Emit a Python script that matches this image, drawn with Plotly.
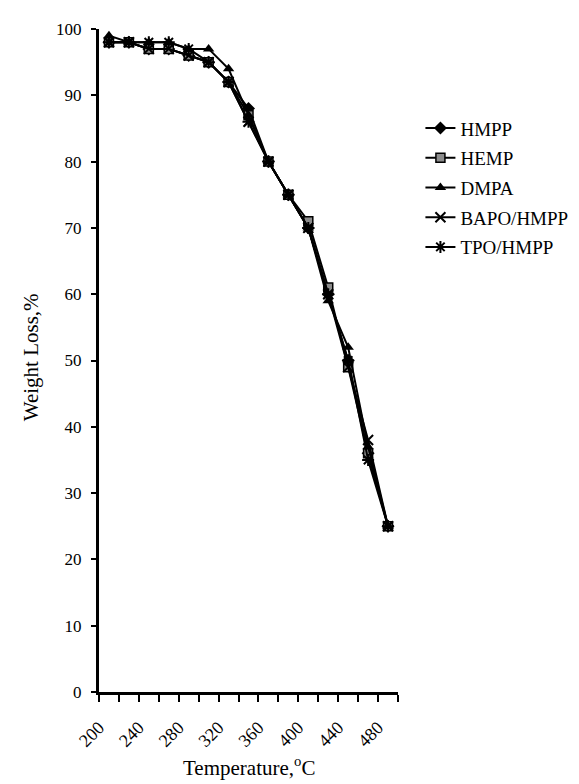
import plotly.graph_objects as go

temperature = [210, 230, 250, 270, 290, 310, 330, 350, 370, 390, 410, 430, 450, 470, 490]
hmpp = [98, 98, 97, 97, 96, 95, 92, 88, 80, 75, 70, 60, 50, 36, 25]
hemp = [98, 98, 97, 97, 96, 95, 92, 87, 80, 75, 71, 61, 49, 36, 25]
dmpa = [99, 98, 98, 98, 97, 97, 94, 87, 80, 75, 70, 59, 52, 37, 25]
bapo_hmpp = [98, 98, 97, 97, 96, 95, 92, 86, 80, 75, 70, 60, 49, 38, 25]
tpo_hmpp = [98, 98, 98, 98, 97, 95, 92, 86, 80, 75, 70, 60, 50, 35, 25]

x_tick_vals = [200, 240, 280, 320, 360, 400, 440, 480]
x_minor_vals = [220, 260, 300, 340, 380, 420, 460, 500]
y_tick_vals = list(range(0, 101, 10))

FONT = "Liberation Serif"

series = [
    ("HMPP", hmpp, dict(symbol="diamond", size=10, color="black")),
    ("HEMP", hemp, dict(symbol="square", size=9, color="#8c8c8c", line=dict(color="black", width=1.5))),
    ("DMPA", dmpa, dict(symbol="triangle-up", size=10, color="black")),
    ("BAPO/HMPP", bapo_hmpp, dict(symbol="x-thin", size=10, color="black", line=dict(color="black", width=2))),
    ("TPO/HMPP", tpo_hmpp, dict(symbol="asterisk", size=10, color="black", line=dict(color="black", width=2))),
]

fig = go.Figure()
for i, (name, vals, marker) in enumerate(series):
    fig.add_trace(go.Scatter(
        x=temperature, y=vals, name=name, mode="lines+markers",
        line=dict(color="black", width=2), marker=marker,
        legendgroup=f"g{i}",
    ))

fig.update_layout(
    width=579, height=784,
    margin=dict(l=91, r=189, t=21, b=100),
    paper_bgcolor="white", plot_bgcolor="white",
    font=dict(family=FONT, size=17, color="black"),
    showlegend=True,
    legend=dict(
        x=1.075, y=(684 - 101) / 663.3, xanchor="left", yanchor="top",
        font=dict(family=FONT, size=19, color="black"),
        tracegroupgap=2, bgcolor="rgba(0,0,0,0)",
    ),
    annotations=[
        dict(text="Temperature,<sup>o</sup>C", xref="paper", yref="paper",
             x=0.5, y=-(759 - 684) / 663.3, xanchor="center", yanchor="middle",
             showarrow=False, font=dict(family=FONT, size=21, color="black")),
        dict(text="Weight Loss,%", xref="paper", yref="paper",
             x=-(91 - 23) / 299.3, y=0.505, xanchor="center", yanchor="middle",
             textangle=-90, showarrow=False, font=dict(family=FONT, size=21, color="black")),
    ],
)

fig.update_xaxes(
    range=[200, 500], tickmode="array", tickvals=x_tick_vals,
    tickangle=-45, ticks="outside", ticklen=7, tickwidth=2, tickcolor="black",
    minor=dict(tickmode="array", tickvals=x_minor_vals, ticks="outside", ticklen=7,
               tickwidth=2, tickcolor="black", showgrid=False),
    showline=True, linecolor="black", linewidth=3, showgrid=False, zeroline=False,
    tickfont=dict(family=FONT, size=18), ticklabelstandoff=8,
)
fig.update_yaxes(
    range=[0, 100], tickmode="array", tickvals=y_tick_vals,
    ticks="outside", ticklen=5, tickwidth=2, tickcolor="black",
    showline=True, linecolor="black", linewidth=3, showgrid=False, zeroline=False,
    tickfont=dict(family=FONT, size=17), ticklabelstandoff=6,
)

fig.write_html("out.html")
